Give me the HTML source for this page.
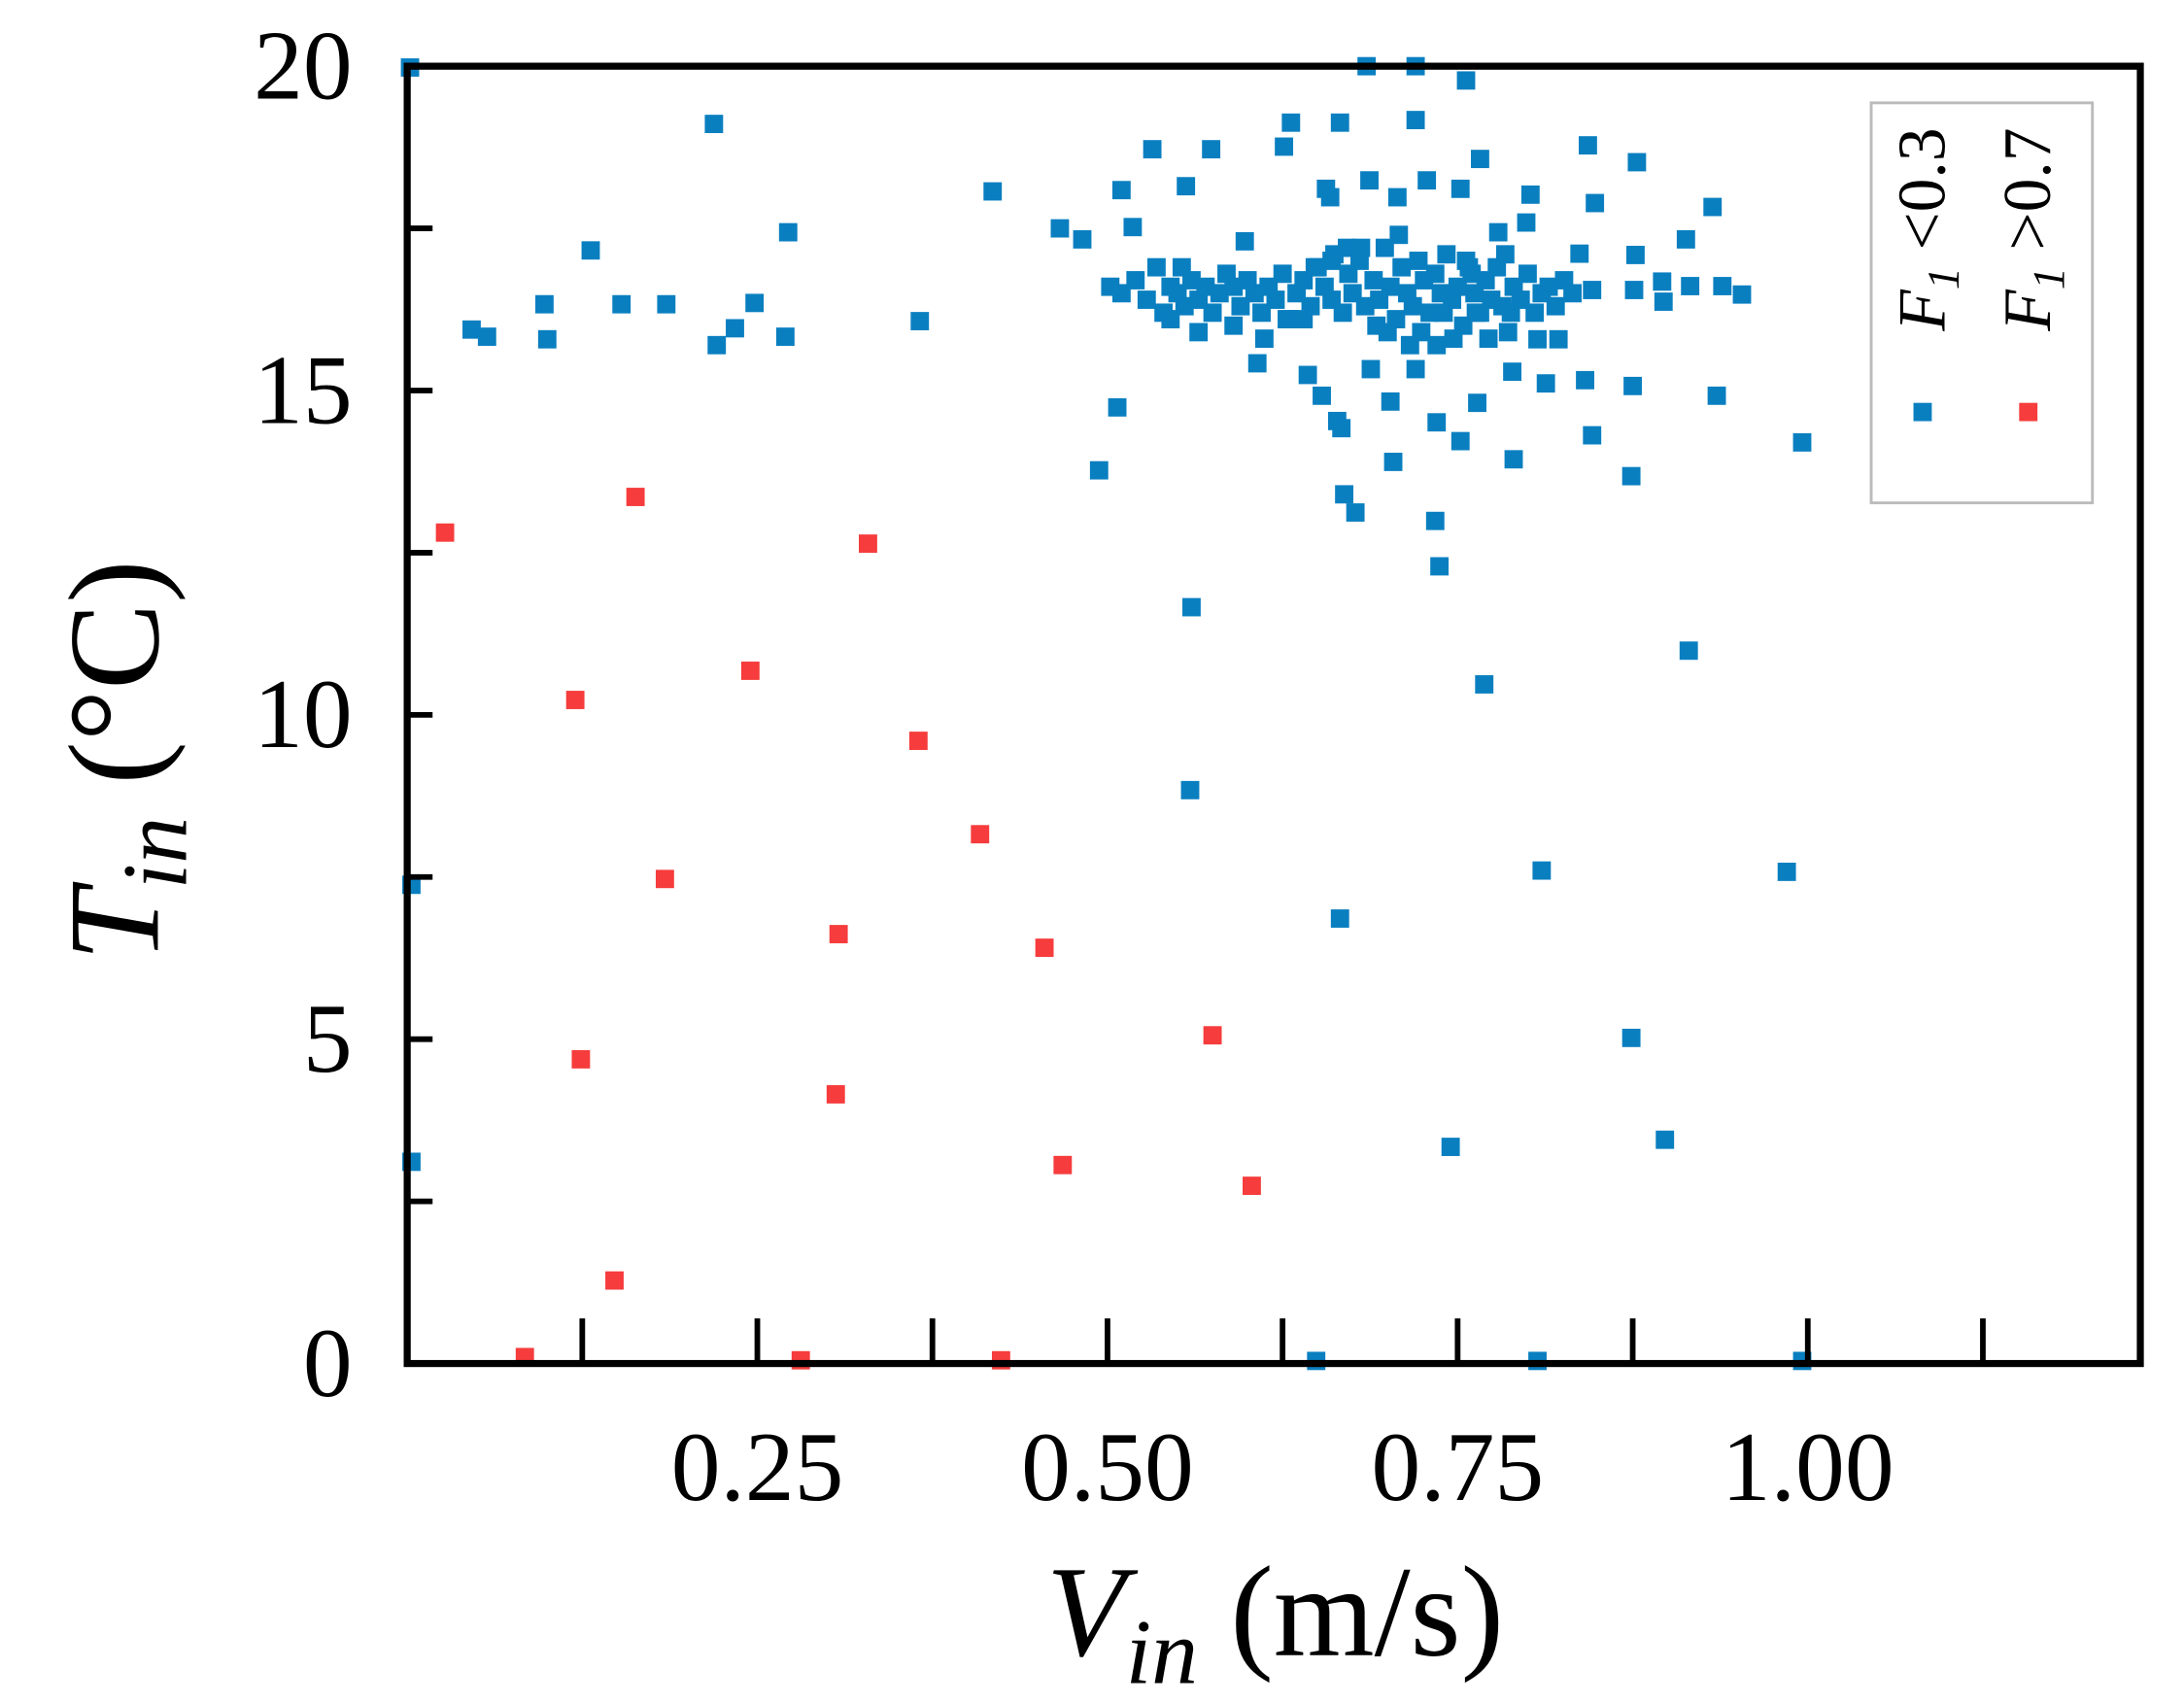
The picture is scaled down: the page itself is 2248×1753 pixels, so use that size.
<!DOCTYPE html>
<html><head><meta charset="utf-8"><style>
html,body{margin:0;padding:0;background:#fff;}
svg{display:block;}
text{font-family:"Liberation Serif",serif;fill:#000;}
</style></head><body>
<svg id="chart" width="2248" height="1753" viewBox="0 0 1550 1209" preserveAspectRatio="none" xmlns="http://www.w3.org/2000/svg">
<g id="marks"></g>
<g id="axes"></g>
<g>
<rect x="1328" y="73" width="157" height="284" fill="#fff" stroke="#bbb" stroke-width="2"/>
<text transform="translate(1380,235) rotate(-90)" font-size="48"><tspan font-style="italic">F</tspan><tspan font-style="italic" font-size="32" dy="10">1</tspan><tspan dy="-10"> &lt;0.3</tspan></text>
<text transform="translate(1455,235) rotate(-90)" font-size="48"><tspan font-style="italic">F</tspan><tspan font-style="italic" font-size="32" dy="10">1</tspan><tspan dy="-10"> &gt;0.7</tspan></text>
<rect x="1358" y="286" width="13" height="13" fill="#0a7fc0"/>
<rect x="1433" y="286" width="13" height="13" fill="#f63c3c"/>
</g>
<text x="905" y="1175" font-size="92" text-anchor="middle"><tspan font-style="italic">V</tspan><tspan font-style="italic" font-size="66" dy="20">in</tspan><tspan dy="-20"> (m/s)</tspan></text>
<text transform="translate(112,540) rotate(-90)" font-size="92" text-anchor="middle"><tspan font-style="italic">T</tspan><tspan font-style="italic" font-size="66" dy="20">in</tspan><tspan dy="-20"> (°C)</tspan></text>
</svg>
<script>
const blueX=[0.002,0.219,0.131,0.098,0.153,0.185,0.248,0.046,0.057,0.100,0.221,0.234,0.270,0.272,0.366,0.418,0.466,0.482,0.510,0.518,0.532,0.556,0.574,0.626,0.631,0.666,0.685,0.720,0.756,0.720,0.766,0.843,0.878,0.656,0.659,0.687,0.707,0.728,0.752,0.802,0.848,0.932,0.779,0.799,0.837,0.913,0.877,0.896,0.916,0.939,0.953,0.876,0.897,0.846,0.813,0.841,0.875,0.935,0.846,0.874,0.996,0.790,0.764,0.752,0.735,0.704,0.702,0.720,0.688,0.653,0.643,0.664,0.667,0.669,0.677,0.734,0.737,0.494,0.507,0.607,0.560,0.559,0.915,0.769,0.810,0.985,0.666,0.874,0.745,0.898,0.003,0.003,0.649,0.807,0.996,0.789,0.807,0.822,
0.502,0.510,0.520,0.528,0.535,0.540,0.545,0.550,0.555,0.560,0.565,0.570,0.575,0.580,0.585,0.590,0.595,0.600,0.605,0.610,0.615,0.620,0.625,0.630,0.635,0.640,0.645,0.650,0.655,0.660,0.662,0.668,0.672,0.675,0.680,0.684,0.690,0.694,0.698,0.702,0.706,0.710,0.714,0.718,0.722,0.726,0.730,0.734,0.738,0.742,0.746,0.750,0.754,0.758,0.762,0.766,0.770,0.774,0.778,0.782,0.786,0.790,0.795,0.800,0.805,0.810,0.815,0.820,0.826,0.832,0.545,0.565,0.590,0.612,0.628,0.648,0.671,0.692,0.708,0.724,0.740,0.756,0.772,0.788,0.553,0.598,0.640,0.681,0.716,0.747,0.763,0.784,0.660,0.700,0.735,0.760];
const blueY=[19.98,19.11,17.16,16.33,16.33,16.33,16.35,15.94,15.83,15.79,15.70,15.96,15.83,17.44,16.07,18.07,17.50,17.33,18.09,17.52,18.72,18.15,18.72,18.76,19.13,19.13,20.0,20.0,19.78,19.17,18.57,18.78,18.52,18.11,17.98,18.24,17.98,18.24,18.11,18.02,17.89,17.83,17.44,17.59,17.11,17.33,17.09,16.68,16.61,16.61,16.48,16.55,16.37,16.55,15.11,15.16,15.07,14.92,14.31,13.68,14.20,13.94,14.81,14.22,14.51,13.90,14.83,15.33,15.33,14.92,15.24,14.53,14.42,13.40,13.12,12.99,12.29,13.77,14.74,15.42,11.66,8.84,10.99,10.47,7.60,7.58,6.86,5.02,3.34,3.45,7.38,3.11,0.04,0.04,0.04,15.29,15.79,15.79,
16.6,16.5,16.7,16.4,16.9,16.2,16.6,16.5,16.3,16.7,16.4,16.6,16.2,16.5,16.8,16.6,16.3,16.7,16.5,16.2,16.6,16.4,16.8,16.1,16.5,16.7,16.3,16.9,16.6,16.4,17.1,16.2,16.8,16.5,17.0,16.3,16.7,16.4,17.2,16.6,16.1,16.9,16.5,16.3,17.0,16.7,16.2,16.8,16.5,17.1,16.4,16.6,16.0,16.9,16.5,16.2,16.7,16.4,16.9,16.3,15.9,16.6,16.4,16.8,16.2,16.5,16.6,16.3,16.7,16.5,16.1,15.9,16.0,15.8,16.1,16.9,17.2,16.0,17.4,15.9,16.2,17.0,15.8,16.2,16.9,17.3,16.1,17.2,15.7,15.8,16.2,17.1,17.0,15.9,15.7,16.8];
const redX=[0.027,0.163,0.120,0.245,0.329,0.365,0.409,0.184,0.308,0.455,0.124,0.306,0.575,0.468,0.603,0.148,0.084,0.281,0.424];
const redY=[12.81,13.36,10.23,10.68,12.64,9.60,8.16,7.47,6.62,6.41,4.69,4.15,5.06,3.06,2.74,1.28,0.1,0.05,0.05];
const xTickLabels=["0.25","0.50","0.75","1.00"];
const yTickLabels=["0","5","10","15","20"];
const NS="http://www.w3.org/2000/svg";
const L=289,R=1519,T=47,B=968;
const sx=v=>L+v*994;
const sy=v=>B-v*46.05;
const marks=document.getElementById('marks'),axes=document.getElementById('axes');
function mk(tag,attrs,parent){const e=document.createElementNS(NS,tag);for(const k in attrs)e.setAttribute(k,attrs[k]);parent.appendChild(e);return e;}
function plot(xs,ys,color,name){for(let i=0;i<xs.length;i++){const r=mk('rect',{x:sx(xs[i])-6.5,y:sy(ys[i])-6.5,width:13,height:13,fill:color},marks);

}}
plot(blueX,blueY,'#0a7fc0','point-f1-low');
plot(redX,redY,'#f63c3c','point-f1-high');
const fr=mk('rect',{x:L,y:T,width:R-L,height:B-T,fill:'none',stroke:'#000','stroke-width':5},axes);


for(let k=1;k<=9;k++){const x=sx(k*0.125);
const t=mk('line',{x1:x,x2:x,y1:B,y2:B-32,stroke:'#000','stroke-width':4},axes);

}
xTickLabels.forEach(s=>{const v=parseFloat(s);const t=mk('text',{x:sx(v),y:1065,'font-size':70,'text-anchor':'middle'},axes);t.textContent=s;

});
for(let k=1;k<8;k++){const y=sy(k*2.5);
const t=mk('line',{x1:L,x2:L+18,y1:y,y2:y,stroke:'#000','stroke-width':4},axes);

}
yTickLabels.forEach(s=>{const v=parseFloat(s);const t=mk('text',{x:250,y:sy(v)+23,'font-size':70,'text-anchor':'end'},axes);t.textContent=s;

});
</script>
</body></html>
